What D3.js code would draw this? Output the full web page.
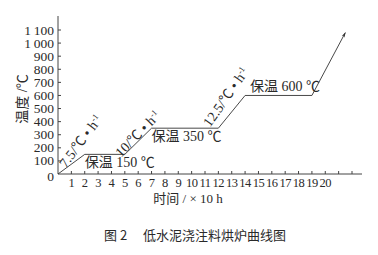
<!DOCTYPE html>
<html>
<head>
<meta charset="utf-8">
<script src="https://cdn.jsdelivr.net/npm/d3@7"></script>
<style>
  body { margin: 0; background: #fff; }
  text { fill: #2a2a2a; }
</style>
</head>
<body>
<div class="chart"></div>
<script>
// heating curve: time (x 10 h) vs temperature
const times = [0, 2, 5, 7, 12, 14, 19, 21.5];
const temps = [0, 150, 150, 350, 350, 600, 600, 1080];
const yTicks = [0, 100, 200, 300, 400, 500, 600, 700, 800, 900, 1000, 1100];
const xTicks = d3.range(1, 23);
const xLabels = d3.range(1, 21);
const rates = ["7.5", "10", "12.5"];
const rampStart = [0, 5, 12];   // ramp start time
const holdTemps = [150, 350, 600];

const width = 378, height = 255;
const serif = "'Liberation Serif', 'Noto Sans CJK SC', serif";
const cjk = "'Noto Sans CJK SC', sans-serif";

// placement of the slanted rate labels (dx, dy from segment middle, angle)
const rateLayout = [[13, -20, -53], [3, -4, -46], [-2, -12, -55]];

const svg = d3.select(".chart").append("svg")
    .attr("width", width)
    .attr("height", height);

const x = d3.scaleLinear().domain([0, 22]).range([58, 352]);
const y = d3.scaleLinear().domain([0, 1100]).range([174, 30]);

svg.append("defs").append("marker")
    .attr("id", "arrow")
    .attr("viewBox", "0 0 10 10")
    .attr("refX", 9).attr("refY", 5)
    .attr("markerWidth", 6).attr("markerHeight", 6)
    .attr("orient", "auto")
    .append("path")
    .attr("d", "M0,2L10,5L0,8L3,5Z")
    .attr("fill", "#333");

/* axes */
svg.append("line")
    .attr("x1", x(0)).attr("x2", x(0))
    .attr("y1", 16).attr("y2", y(0))
    .attr("stroke", "#444");
svg.append("line")
    .attr("x1", x(0)).attr("x2", 362)
    .attr("y1", y(0)).attr("y2", y(0))
    .attr("stroke", "#444");

svg.append("g").selectAll("line").data(yTicks.slice(1))
    .join("line")
    .attr("x1", x(0)).attr("x2", x(0) + 3)
    .attr("y1", d => y(d)).attr("y2", d => y(d))
    .attr("stroke", "#444");

svg.append("g").selectAll("text").data(yTicks)
    .join("text")
    .attr("x", 54)
    .attr("y", d => y(d) + (d === 0 ? 7 : 4.5))
    .attr("text-anchor", "end")
    .style("font", "13.5px " + serif)
    .text(d => d >= 1000 ? Math.floor(d / 1000) + "\u2009" + String(d % 1000).padStart(3, "0") : d);

svg.append("g").selectAll("line").data(xTicks)
    .join("line")
    .attr("x1", d => x(d)).attr("x2", d => x(d))
    .attr("y1", y(0)).attr("y2", y(0) - 3)
    .attr("stroke", "#444");

svg.append("g").selectAll("text").data(xLabels)
    .join("text")
    .attr("x", d => x(d))
    .attr("y", y(0) + 13)
    .attr("text-anchor", "middle")
    .style("font", "12.5px " + serif)
    .attr("letter-spacing", "-0.5")
    .text(d => d);

/* axis titles */
svg.append("text")
    .attr("transform", "translate(27,99) rotate(-90)")
    .attr("text-anchor", "middle")
    .style("font", "14px " + serif)
    .text("温度 /℃");

svg.append("text")
    .attr("x", 188).attr("y", 203)
    .attr("text-anchor", "middle")
    .style("font", "13px " + serif)
    .text("时间 / × 10 h");

/* curve */
const pts = times.map((t, i) => [x(t), y(temps[i])]);
svg.append("path")
    .attr("d", d3.line()(pts))
    .attr("fill", "none")
    .attr("stroke", "#333")
    .attr("stroke-width", 0.9)
    .attr("marker-end", "url(#arrow)");

/* rate labels */
svg.append("g").selectAll("text").data(rates)
    .join("text")
    .attr("transform", (d, i) => {
        const k = times.indexOf(rampStart[i]);
        const cx = (x(times[k]) + x(times[k + 1])) / 2 + rateLayout[i][0];
        const cy = (y(temps[k]) + y(temps[k + 1])) / 2 + rateLayout[i][1];
        return `translate(${cx},${cy}) rotate(${rateLayout[i][2]})`;
    })
    .attr("text-anchor", "middle")
    .style("font", "14px " + serif)
    .call(t => {
        t.append("tspan").text(d => d + "/℃ • h");
        t.append("tspan").attr("dy", -5).style("font-size", "8.5px").text("-1");
    });

/* hold labels */
svg.append("g").selectAll("text").data(holdTemps)
    .join("text")
    .attr("x", (d, i) => x(times[temps.indexOf(d)]) + (i === 2 ? 5 : 0))
    .attr("y", (d, i) => i === 2 ? y(d) - 4 : y(d) + 13)
    .style("font", "14px " + serif)
    .text(d => "保温 " + d + " ℃");

/* caption */
svg.append("text")
    .attr("x", 104).attr("y", 240)
    .style("font", "13px " + cjk)
    .attr("fill", "#222")
    .text("图 2\u3000 低水泥浇注料烘炉曲线图");
</script>
</body>
</html>
